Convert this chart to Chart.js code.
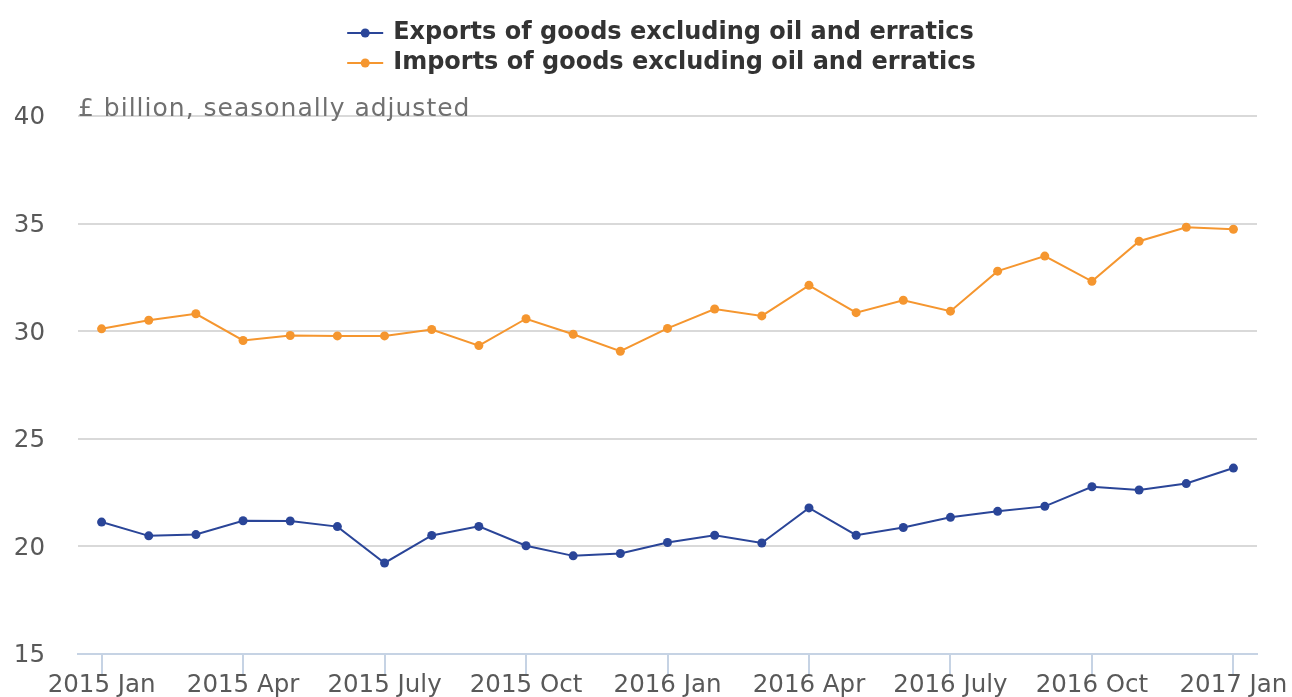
<!DOCTYPE html>
<html lang="en">
<head>
    <meta charset="UTF-8">
    <title>Exports and imports of goods excluding oil and erratics</title>
    <script src="https://cdn.jsdelivr.net/npm/chart.js"></script>
    <style>
        html, body {
            margin: 0;
            padding: 0;
            background: #ffffff;
            overflow: hidden;
        }
        canvas {
            display: block;
        }
    </style>
</head>
<body>

<canvas id="myChart" width="1292" height="697"></canvas>

<script>
    // Monthly categories, 2015 Jan to 2017 Jan
    const months = [
        "2015 Jan", "2015 Feb", "2015 Mar", "2015 Apr", "2015 May", "2015 June",
        "2015 July", "2015 Aug", "2015 Sept", "2015 Oct", "2015 Nov", "2015 Dec",
        "2016 Jan", "2016 Feb", "2016 Mar", "2016 Apr", "2016 May", "2016 June",
        "2016 July", "2016 Aug", "2016 Sept", "2016 Oct", "2016 Nov", "2016 Dec",
        "2017 Jan"
    ];

    // £ billion, seasonally adjusted
    const exportsGoods = [
        21.13, 20.49, 20.55, 21.19, 21.18, 20.92, 19.23, 20.51, 20.93, 20.03, 19.56, 19.67,
        20.18, 20.52, 20.16, 21.79, 20.52, 20.88, 21.35, 21.63, 21.86, 22.77, 22.62, 22.92,
        23.64
    ];
    const importsGoods = [
        30.11, 30.51, 30.81, 29.57, 29.80, 29.78, 29.78, 30.08, 29.33, 30.58, 29.86, 29.07,
        30.13, 31.03, 30.71, 32.13, 30.86, 31.44, 30.93, 32.79, 33.49, 32.32, 34.18, 34.83,
        34.74
    ];

    const yTicks = [15, 20, 25, 30, 35, 40];
    const seriesNames = [
        "Exports of goods excluding oil and erratics",
        "Imports of goods excluding oil and erratics"
    ];
    const unitsLabel = "£ billion, seasonally adjusted";

    const blue = "#2a4598";
    const orange = "#f5962f";
    const tickFont = { family: "'DejaVu Sans', sans-serif", size: 24.5 };

    // Draws the stacked legend at the top and the units note
    const headerPlugin = {
        id: "header",
        afterDraw(chart) {
            const ctx = chart.ctx;
            const area = chart.chartArea;
            const colors = chart.data.datasets.map(d => d.borderColor);

            ctx.save();
            ctx.font = "bold 24px 'DejaVu Sans', sans-serif";
            const widest = Math.max(...seriesNames.map(n => ctx.measureText(n).width));
            const lineLen = 36;
            const gap = 10;
            const left = (area.left + area.right) / 2 - (lineLen + gap + widest) / 2 - 6;
            seriesNames.forEach((name, i) => {
                const y = 33 + i * 30;
                ctx.strokeStyle = colors[i];
                ctx.lineWidth = 2;
                ctx.beginPath();
                ctx.moveTo(left, y);
                ctx.lineTo(left + lineLen, y);
                ctx.stroke();
                ctx.fillStyle = colors[i];
                ctx.beginPath();
                ctx.arc(left + lineLen / 2, y, 4.5, 0, Math.PI * 2);
                ctx.fill();
                ctx.fillStyle = "#333333";
                ctx.textAlign = "left";
                ctx.textBaseline = "middle";
                ctx.fillText(name, left + lineLen + gap, y);
            });

            ctx.font = "25px 'DejaVu Sans', sans-serif";
            ctx.letterSpacing = "1px";
            ctx.fillStyle = "#707070";
            ctx.textAlign = "left";
            ctx.textBaseline = "alphabetic";
            ctx.fillText(unitsLabel, area.left, area.top);
            ctx.restore();
        }
    };

    const ctx = document.getElementById("myChart").getContext("2d");

    new Chart(ctx, {
        type: "line",
        data: {
            labels: months,
            datasets: [
                {
                    label: seriesNames[0],
                    data: exportsGoods,
                    borderColor: blue,
                    backgroundColor: blue,
                    borderWidth: 2,
                    pointRadius: 4.5,
                    pointBorderWidth: 0,
                    pointHoverRadius: 5,
                    tension: 0
                },
                {
                    label: seriesNames[1],
                    data: importsGoods,
                    borderColor: orange,
                    backgroundColor: orange,
                    borderWidth: 2,
                    pointRadius: 4.5,
                    pointBorderWidth: 0,
                    pointHoverRadius: 5,
                    tension: 0
                }
            ]
        },
        options: {
            responsive: false,
            devicePixelRatio: 1,
            animation: false,
            layout: {
                padding: { top: 116, right: 35, bottom: 0, left: 0 }
            },
            plugins: {
                legend: { display: false },
                tooltip: { enabled: true }
            },
            scales: {
                x: {
                    offset: true,
                    afterFit: axis => {
                        axis.height = 43;
                    },
                    grid: {
                        offset: false,
                        drawOnChartArea: false,
                        tickLength: 21,
                        lineWidth: 2,
                        color: c => (c.index % 3 === 0 ? "#c6d3e4" : "rgba(0,0,0,0)")
                    },
                    border: { display: true, color: "#c6d3e4", width: 2 },
                    ticks: {
                        autoSkip: false,
                        maxRotation: 0,
                        padding: -4,
                        color: "#595959",
                        font: tickFont,
                        callback: function (v, i) {
                            return i % 3 === 0 ? this.getLabelForValue(v) : "";
                        }
                    }
                },
                y: {
                    min: yTicks[0],
                    max: yTicks[yTicks.length - 1],
                    afterBuildTicks: axis => {
                        axis.ticks = yTicks.map(v => ({ value: v }));
                    },
                    afterFit: axis => {
                        axis.width = 78;
                    },
                    grid: {
                        drawTicks: true,
                        tickLength: 33,
                        tickColor: "rgba(0,0,0,0)",
                        lineWidth: 2,
                        color: c => (c.tick && c.tick.value === yTicks[0] ? "rgba(0,0,0,0)" : "#d9d9d9")
                    },
                    border: { display: false },
                    ticks: {
                        padding: 0,
                        labelOffset: 2,
                        color: "#595959",
                        font: tickFont
                    }
                }
            }
        },
        plugins: [headerPlugin]
    });
</script>

</body>
</html>
